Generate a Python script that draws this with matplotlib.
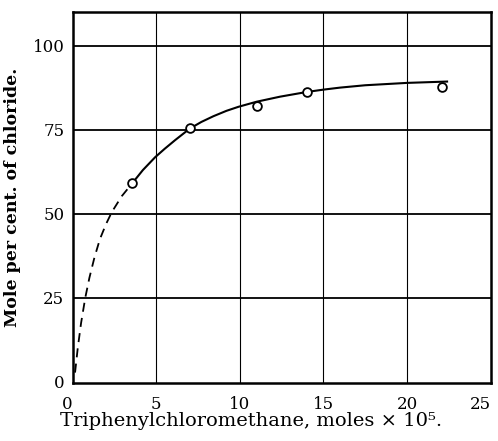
import matplotlib
matplotlib.use("Agg")
import matplotlib.pyplot as plt

# Measured points
pts_x = [3.55, 7.0, 11.0, 14.0, 22.1]
pts_y = [59.0, 75.5, 81.9, 86.3, 87.6]

# Dashed (extrapolated) part of the curve
dash_x = [0.14, 0.3, 0.5, 0.75, 1.0, 1.3, 1.63, 2.0, 2.34, 2.93, 3.55]
dash_y = [2.8, 10.0, 17.5, 25.0, 31.0, 37.0, 42.5, 47.0, 50.5, 55.2, 59.0]

# Solid smooth curve
curve_x = [3.55, 4.2, 4.93, 5.5, 6.13, 7.0, 7.7, 8.42, 9.2, 9.92, 11.0, 12.4, 14.0, 15.0, 16.0, 17.5, 20.0, 22.4]
curve_y = [59.0, 63.0, 66.8, 69.3, 71.9, 75.3, 77.3, 79.0, 80.6, 81.8, 83.3, 84.8, 86.2, 86.9, 87.5, 88.2, 88.9, 89.3]

xticks = [0, 5, 10, 15, 20, 25]
yticks = [0, 25, 50, 75, 100]

plt.rcParams['font.family'] = ['DejaVu Serif']

fig = plt.figure(figsize=(4.98, 4.41), dpi=100)
ax = fig.add_axes([0.146, 0.1315, 0.839, 0.8415])
ax.set_xlim(0, 25)
ax.set_ylim(-0.3, 110)

for xv in [5, 10, 15, 20]:
    ax.axvline(xv, color='black', lw=0.8, zorder=1)
for yv in [25, 50, 75, 100]:
    ax.axhline(yv, color='black', lw=1.3, zorder=1)

ax.plot(dash_x, dash_y, color='black', lw=1.3, ls=(0, (5, 3.5)), zorder=2)
ax.plot(curve_x, curve_y, color='black', lw=1.5, zorder=2)
ax.plot(pts_x, pts_y, 'o', mfc='white', mec='black', mew=1.3, ms=6.3, zorder=3)

ax.set_xticks(xticks)
ax.set_yticks(yticks)
ax.tick_params(length=0, labelsize=12)
ax.tick_params(axis='x', pad=9)
ax.tick_params(axis='y', pad=6)
xl = ax.get_xticklabels()
xl[-1].set_ha('right')
xl[0].set_ha('right')
for s in ax.spines.values():
    s.set_linewidth(1.8)

fig.text(0.504, 0.033, 'Triphenylchloromethane, moles × 10⁵.', fontsize=14,
         ha='center', va='baseline')
ax.set_ylabel('Mole per cent. of chloride.', fontsize=12.5, fontweight='bold', labelpad=8)

fig.savefig('out.png', dpi=100)
